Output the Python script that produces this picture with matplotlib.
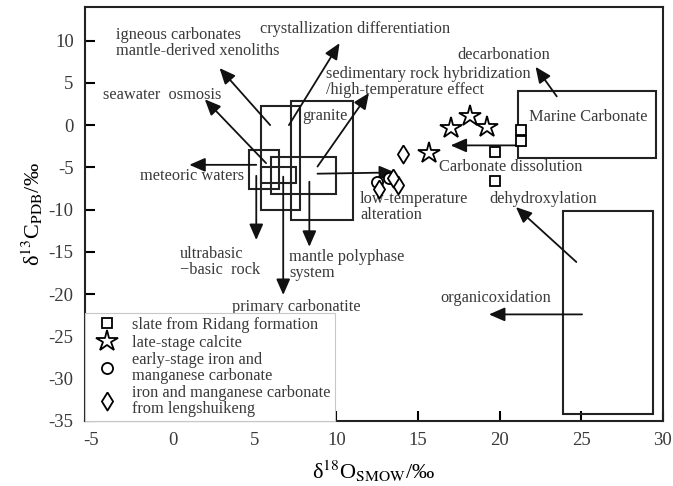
import matplotlib.pyplot as plt
from matplotlib.patches import Rectangle

plt.rcParams['font.family'] = ['Liberation Serif', 'DejaVu Serif']
plt.rcParams['mathtext.fontset'] = 'stix'
plt.rcParams['axes.unicode_minus'] = False

# sample groups (d18O, d13C)
slate_x = [21.3, 21.3, 19.7, 19.7]
slate_y = [-0.6, -1.9, -3.2, -6.6]
calcite_x = [18.2, 17.0, 19.25, 15.7]
calcite_y = [1.1, -0.3, -0.2, -3.3]
early_x = [12.5, 13.2]
early_y = [-6.7, -6.2]
lsk_x = [14.1, 12.6, 13.8, 13.5]
lsk_y = [-3.4, -7.6, -7.1, -6.3]

group_labels = ["slate from Ridang formation",
                "late-stage calcite",
                "early-stage iron and\nmanganese carbonate",
                "iron and manganese carbonate\nfrom lengshuikeng"]

# field boxes: x0, x1, y0, y1
boxes = [(5.4, 7.8, -10.0, 2.3),
         (7.25, 11.0, -11.2, 2.9),
         (4.65, 6.5, -7.6, -2.9),
         (6.0, 10.0, -8.2, -3.8),
         (5.4, 7.55, -6.9, -5.0),
         (21.1, 29.6, -3.9, 4.0),
         (23.9, 29.4, -34.2, -10.2)]

# process arrows: (start x, start y, tip x, tip y)
arrows = [(5.95, 0.0, 2.85, 6.75),
          (7.1, 0.0, 10.2, 9.7),
          (5.7, -4.5, 1.95, 3.05),
          (5.1, -4.7, 1.0, -4.7),
          (8.85, -4.9, 12.0, 3.8),
          (8.85, -5.75, 13.6, -5.6),
          (5.1, -6.0, 5.1, -13.6),
          (8.35, -6.7, 8.35, -14.4),
          (6.75, -6.1, 6.75, -20.1),
          (23.5, 3.4, 22.2, 6.9),
          (21.6, -2.4, 17.0, -2.4),
          (24.7, -16.2, 21.0, -9.7),
          (25.05, -22.4, 19.35, -22.4)]

# text labels: (text, x, y)
labels = [("igneous carbonates\nmantle-derived xenoliths", -3.5, 9.7),
          ("crystallization differentiation", 5.3, 11.35),
          ("sedimentary rock hybridization\n/high-temperature effect", 9.35, 5.05),
          ("decarbonation", 17.4, 8.3),
          ("seawater  osmosis", -4.3, 3.55),
          ("granite", 7.9, 1.05),
          ("meteoric waters", -2.05, -6.0),
          ("Marine Carbonate", 21.8, 1.0),
          ("Carbonate dissolution", 16.3, -5.0),
          ("low-temperature\nalteration", 11.45, -9.65),
          ("dehydroxylation", 19.4, -8.8),
          ("ultrabasic\n\u2212basic  rock", 0.4, -16.2),
          ("mantle polyphase\nsystem", 7.1, -16.6),
          ("primary carbonatite", 3.6, -21.5),
          ("organicoxidation", 16.35, -20.5)]

text_color = '#3a3a3a'
diamond = [(0, 1), (0.62, 0), (0, -1), (-0.62, 0), (0, 1)]

fig, ax = plt.subplots(figsize=(6.73, 4.86), dpi=100)
fig.subplots_adjust(left=0.126, right=0.985, top=0.986, bottom=0.134)

for x0, x1, y0, y1 in boxes:
    ax.add_patch(Rectangle((x0, y0), x1 - x0, y1 - y0, fill=False,
                           edgecolor='#222222', lw=1.5, zorder=2))

for x0, y0, x1, y1 in arrows:
    ax.annotate('', xy=(x1, y1), xytext=(x0, y0),
                arrowprops=dict(arrowstyle='-|>,head_length=0.8,head_width=0.35',
                                mutation_scale=12, color='#111111', lw=1.3,
                                shrinkA=0, shrinkB=0), zorder=3)

for txt, x, y in labels:
    ax.text(x, y, txt, ha='left', va='center', fontsize=11.8,
            color=text_color, linespacing=1.0, zorder=4)

mk = dict(linestyle='none', mfc='white', mec='black', mew=1.3, zorder=5)
ax.plot(slate_x, slate_y, marker='s', ms=7.5, label=group_labels[0], **mk)
ax.plot(calcite_x, calcite_y, marker='*', ms=16, label=group_labels[1], **mk)
ax.plot(early_x, early_y, marker='o', ms=8, label=group_labels[2], **mk)
ax.plot(lsk_x, lsk_y, marker=diamond, ms=13, label=group_labels[3], **mk)

leg = ax.legend(loc='lower left', bbox_to_anchor=(0, 0), borderaxespad=0,
                fancybox=False, edgecolor='#c8c8c8', framealpha=1,
                fontsize=11.8, labelspacing=0.1, handletextpad=0.45,
                handlelength=2.2, borderpad=0.25, labelcolor=text_color)
leg.get_frame().set_linewidth(0.8)
for t in leg.get_texts():
    t.set_linespacing(0.95)

ax.set_xlim(-5.4, 30)
ax.set_ylim(-35, 14)
ax.set_xticks([-5, 0, 5, 10, 15, 20, 25, 30])
ax.set_yticks([10, 5, 0, -5, -10, -15, -20, -25, -30, -35])
ax.tick_params(direction='in', length=7, width=1.5, labelsize=13.5,
               labelcolor=text_color, top=False, right=False, pad=8)
for s in ax.spines.values():
    s.set_linewidth(1.5)
    s.set_color('#222222')

ax.set_xlabel('δ$^{18}$O$_{\\rm SMOW}$/‰', fontsize=16, labelpad=7)
ax.set_ylabel('δ$^{13}$C$_{\\rm PDB}$/‰', fontsize=16, labelpad=3)

fig.savefig('out.png', dpi=100)
